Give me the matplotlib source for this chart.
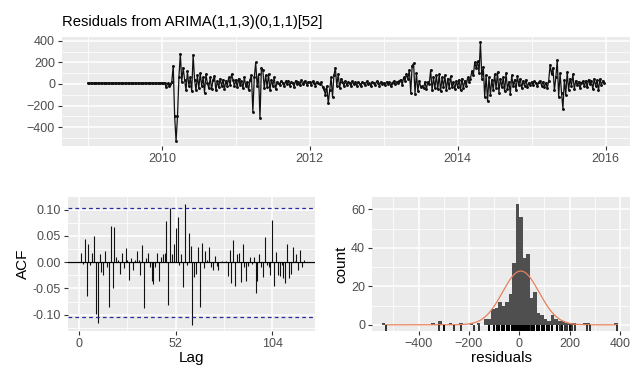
import numpy as np
import matplotlib.pyplot as plt
from matplotlib.ticker import MultipleLocator

plt.rcParams['font.family'] = ['Liberation Sans', 'DejaVu Sans']

# weekly residuals, frequency 52, starting 2009
res_2009 = [9, 8, 8, 9, 8, 8, 9, 8, 8, 9, 8, 8, 9, 8, 8, 9, 8, 8, 9, 8, 8, 9, 8, 8, 9, 8,
            8, 9, 8, 8, 9, 8, 8, 9, 8, 8, 9, 8, 8, 9, 8, 8, 9, 8, 8, 9, 8, 8, 9, 8, 8, 9]
res_2010 = [10, 8, 12, -30, 5, -15, 0, 20, 170, -300, -530, -300, 60, 280, 20, 150, 40, -60,
            120, -20, 60, -70, 270, 40, -60, 80, -40, 100, -20, 60, -80, 90, 10, -40, 60, -50,
            40, 70, -60, 30, -30, 50, -20, 40, -50, 30, -20, 60, -10, 90, 40, -20]
res_2011 = [40, -30, 50, -10, 30, -40, 60, -20, 20, -60, 40, 80, -260, 60, 200, -20, 90, -320,
            150, 130, -40, 80, -30, 90, -60, 40, -20, 60, -50, 20, 10, -10, 30, 5, -20, 25,
            -5, 30, -15, 20, 10, -25, 30, 0, 20, -10, 35, -5, 20, 30, -10, 15]
res_2012 = [20, -10, 25, 5, -15, 20, 10, -5, 15, -30, -50, -100, -20, -180, -60, 60, -120, 80,
            150, -20, 90, -40, 50, 20, -20, 30, -10, 20, 5, -20, 25, -5, 15, -15, 20, 0,
            -20, 20, 10, -10, 25, -5, 10, -20, 20, 5, -10, 25, 10, -15, 20, 0]
res_2013 = [10, -10, 20, 0, 15, -20, 10, 25, -5, 20, 5, 30, 40, -10, 60, 30, 90, 50,
            130, -80, 170, 190, -90, 100, -70, 30, -30, -20, -40, 20, -50, 20, 0, 130, -60, 60,
            -40, 80, -50, 90, -70, 60, -30, 80, -60, 50, -40, 70, -30, 20, -50, 30]
res_2014 = [-30, 40, -60, 50, -40, 30, -20, 60, 20, 50, 120, 80, 200, 150, 210, 100, 390, 50,
            160, -120, 80, -160, 60, -100, 40, -60, 90, -40, 110, -80, 50, -30, 60, -70, 100, -50,
            20, -90, 80, -20, 40, -60, 70, -10, 50, -40, 30, -20, 40, -30, 10, -10]
res_2015 = [20, -10, 25, 10, -20, 15, 30, -15, 20, -25, 10, -40, 30, 180, 90, 150, -60, 60,
            220, -120, 100, -80, -230, 40, -100, 110, -60, 50, -20, 90, -50, 30, -10, 20, -40, 10,
            25, -20, 30, -30, 40, 0, 30, -50, 50, -20, 35, -60, 45, -10, 30, 10]
residuals = np.array(res_2009 + res_2010 + res_2011 + res_2012 + res_2013 + res_2014 + res_2015, float)
start_year = 2009
freq = 52

# autocorrelations, lags 1..121
acf_vals = [0.018, -0.004, 0.045, -0.065, 0.035, -0.005, 0.018, 0.049, -0.098, -0.115,
            0.015, -0.018, -0.025, 0.022, -0.010, -0.085, 0.069, -0.050, 0.067, 0.010,
            0.005, -0.022, 0.017, -0.012, 0.027, 0.004, -0.033, 0.008, -0.015, 0.005,
            0.022, 0.005, -0.025, 0.032, -0.088, 0.007, 0.018, -0.010, -0.035, -0.042,
            -0.010, 0.018, -0.035, 0.010, 0.015, 0.018, 0.078, -0.081, 0.104, 0.015,
            0.035, 0.065, 0.085, -0.005, 0.015, -0.048, 0.110, -0.005, 0.055, 0.030,
            -0.120, -0.028, -0.022, 0.028, -0.085, 0.037, -0.012, 0.022, 0.005, 0.028,
            -0.010, -0.015, 0.012, -0.008, -0.015, 0.000, 0.003, 0.000, 0.002, -0.027,
            0.024, -0.040, 0.043, -0.045, 0.016, 0.017, -0.038, 0.034, -0.010, -0.035,
            -0.008, 0.010, -0.003, 0.010, -0.058, -0.035, 0.015, -0.010, -0.028, 0.047,
            -0.005, -0.010, -0.025, 0.080, -0.046, 0.020, -0.025, -0.027, -0.005, -0.030,
            -0.040, 0.035, -0.030, -0.022, 0.028, 0.002, 0.015, -0.015, 0.023, -0.010, 0.005]
ci = 0.104

# histogram of residuals (bin left edges, counts), bin width 14
hist_left = [-546, -350, -322, -280, -238, -196, -168,
             -140, -126, -112, -98, -84, -70, -56, -42, -28, -14,
             0, 14, 28, 42, 56, 70, 84, 98, 112, 126, 140, 154, 168, 182, 196, 210, 252, 266, 378]
hist_count = [1, 1, 2, 1, 1, 1, 1,
              3, 3, 8, 9, 12, 10, 12, 16, 32, 63,
              56, 35, 37, 14, 17, 6, 5, 3, 2, 5, 3, 2, 2, 1, 1, 1, 1, 1, 1]
binwidth = 14

PANEL = '#EBEBEB'
TICKC = '#4D4D4D'


def gg_style(ax):
    ax.set_facecolor(PANEL)
    for s in ax.spines.values():
        s.set_visible(False)
    ax.grid(which='major', color='white', lw=1.1)
    ax.grid(which='minor', color='white', lw=0.55)
    ax.set_axisbelow(True)
    ax.tick_params(which='major', length=3, width=0.8, color='#333333',
                   labelcolor=TICKC, labelsize=9, pad=2)
    ax.tick_params(which='minor', length=0)


fig = plt.figure(figsize=(6.30, 3.71), dpi=100)

# top: residual series
ax1 = fig.add_axes([62 / 630, 1 - 146 / 371, 568 / 630, 109 / 371])
gg_style(ax1)
t = start_year + np.arange(len(residuals)) / freq
ax1.plot(t, residuals, color='#111111', lw=0.9, marker='o', ms=1.1)
ax1.set_xlim(2008.65, 2016.33)
ax1.set_ylim(-576, 436)
ax1.set_xticks([2010, 2012, 2014, 2016])
ax1.xaxis.set_minor_locator(MultipleLocator(1))
ax1.set_yticks([-400, -200, 0, 200, 400])
ax1.yaxis.set_minor_locator(MultipleLocator(100))
fig.text(62 / 630, 1 - 26 / 371, 'Residuals from ARIMA(1,1,3)(0,1,1)[52]',
         fontsize=10.7, va='baseline', ha='left')

# bottom left: ACF
ax2 = fig.add_axes([68 / 630, 1 - 331 / 371, 247 / 630, 134 / 371])
gg_style(ax2)
lags = np.arange(1, len(acf_vals) + 1)
ax2.vlines(lags, 0, acf_vals, color='#111111', lw=0.8)
ax2.axhline(0, color='black', lw=0.9)
ax2.axhline(ci, color='#2B2B9E', lw=0.9, ls=(0, (3, 2.5)))
ax2.axhline(-ci, color='#2B2B9E', lw=0.9, ls=(0, (3, 2.5)))
ax2.set_xlim(-6, 127)
ax2.set_ylim(-0.131, 0.124)
ax2.set_xticks([0, 52, 104])
ax2.xaxis.set_minor_locator(MultipleLocator(26))
ax2.set_yticks([-0.10, -0.05, 0.0, 0.05, 0.10])
ax2.set_yticklabels(['-0.10', '-0.05', '0.00', '0.05', '0.10'])
ax2.yaxis.set_minor_locator(MultipleLocator(0.025))
ax2.set_xlabel('Lag', fontsize=11, labelpad=1)
ax2.set_ylabel('ACF', fontsize=11, labelpad=2)

# bottom right: histogram with normal curve and rug
ax3 = fig.add_axes([372 / 630, 1 - 331 / 371, 258 / 630, 134 / 371])
gg_style(ax3)
ax3.bar(hist_left, hist_count, width=binwidth, align='edge', color='#4F4F4F', lw=0)
mu, sd = 6, 72.6
xs = np.linspace(residuals.min(), residuals.max(), 400)
dens = len(residuals) * binwidth / (sd * np.sqrt(2 * np.pi)) * np.exp(-0.5 * ((xs - mu) / sd) ** 2)
ax3.plot(xs, dens, color='#E8805C', lw=0.9)
ax3.set_xlim(-585, 440)
ax3.set_ylim(-3.2, 66.5)
ax3.vlines(residuals, -3.2, -3.2 + 0.045 * 69.7, color='black', lw=1.1)
ax3.set_xticks([-400, -200, 0, 200, 400])
ax3.xaxis.set_minor_locator(MultipleLocator(100))
ax3.set_yticks([0, 20, 40, 60])
ax3.yaxis.set_minor_locator(MultipleLocator(10))
ax3.set_xlabel('residuals', fontsize=11, labelpad=1)
ax3.set_ylabel('count', fontsize=11, labelpad=2)

fig.savefig('out.png', dpi=100)
